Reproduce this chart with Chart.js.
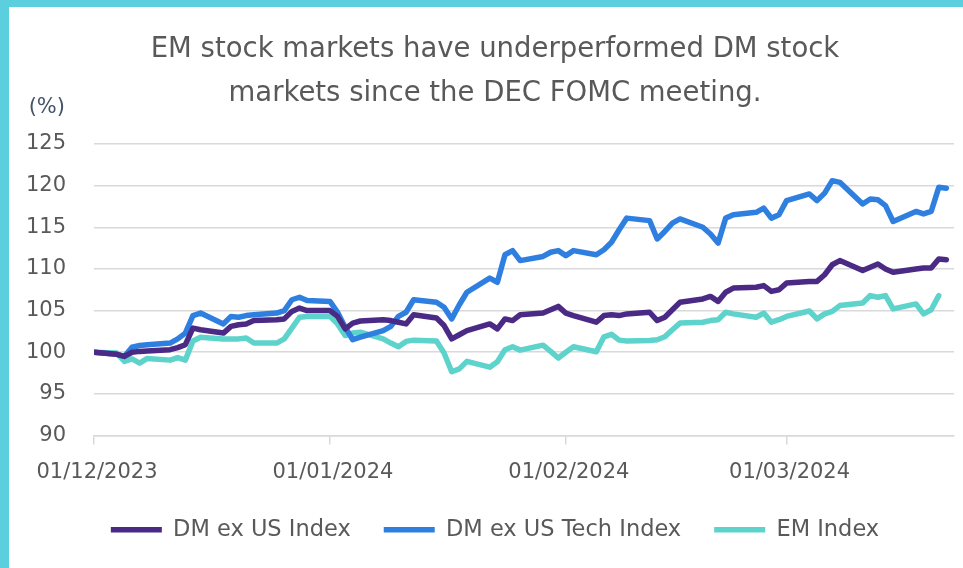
<!DOCTYPE html>
<html>
<head>
<meta charset="utf-8">
<script src="https://cdn.jsdelivr.net/npm/chart.js@4.4.1/dist/chart.umd.min.js"></script>
<style>
  html, body { margin: 0; padding: 0; background: #fff; overflow: hidden; }
  .frame { width: 954px; height: 561px; overflow: hidden; border-top: 7px solid #5bcfde; border-left: 9px solid #5bcfde; }
  canvas { display: block; }
</style>
</head>
<body>
<div class="frame"><canvas id="em-dm-chart" width="954" height="561"></canvas></div>
<script>
// trading days, rebased to 100 on 1 Dec 2023
const dates = [
  '2023-12-01',
  '2023-12-04', '2023-12-05', '2023-12-06', '2023-12-07', '2023-12-08',
  '2023-12-11', '2023-12-12', '2023-12-13', '2023-12-14', '2023-12-15',
  '2023-12-18', '2023-12-19', '2023-12-20', '2023-12-21', '2023-12-22',
  '2023-12-25', '2023-12-26', '2023-12-27', '2023-12-28', '2023-12-29',
  '2024-01-01', '2024-01-02', '2024-01-03', '2024-01-04', '2024-01-05',
  '2024-01-08', '2024-01-09', '2024-01-10', '2024-01-11', '2024-01-12',
  '2024-01-15', '2024-01-16', '2024-01-17', '2024-01-18', '2024-01-19',
  '2024-01-22', '2024-01-23', '2024-01-24', '2024-01-25', '2024-01-26',
  '2024-01-29', '2024-01-30', '2024-01-31', '2024-02-01', '2024-02-02',
  '2024-02-05', '2024-02-06', '2024-02-07', '2024-02-08', '2024-02-09',
  '2024-02-12', '2024-02-13', '2024-02-14', '2024-02-15', '2024-02-16',
  '2024-02-19', '2024-02-20', '2024-02-21', '2024-02-22', '2024-02-23',
  '2024-02-26', '2024-02-27', '2024-02-28', '2024-02-29', '2024-03-01',
  '2024-03-04', '2024-03-05', '2024-03-06', '2024-03-07', '2024-03-08',
  '2024-03-11', '2024-03-12', '2024-03-13', '2024-03-14', '2024-03-15',
  '2024-03-18', '2024-03-19', '2024-03-20', '2024-03-21', '2024-03-22'
];

const dmExUs = [
  100,
  99.75, 99.5, 100.0, 100.1, 100.15,
  100.3, 100.55, 100.9, 102.9, 102.7,
  102.3, 103.1, 103.3, 103.4, 103.8,
  103.9, 104.0, 104.9, 105.3, 105.0,
  105.0, 104.3, 102.8, 103.5, 103.75,
  103.9, 103.8, 103.6, 103.4, 104.5,
  104.1, 103.2, 101.6, 102.1, 102.6,
  103.4, 102.8, 104.0, 103.8, 104.5,
  104.7, 105.1, 105.5, 104.7, 104.4,
  103.6, 104.4, 104.5, 104.4, 104.6,
  104.8, 103.8, 104.2, 105.1, 106.0,
  106.4, 106.7, 106.1, 107.2, 107.7,
  107.8, 108.0, 107.3, 107.5, 108.3,
  108.5, 108.5, 109.3, 110.5, 111.0,
  109.8, 110.2, 110.6, 110.0, 109.6,
  110.0, 110.1, 110.1, 111.2, 111.1
];

const dmExUsTech = [
  100,
  99.75, 99.5, 100.6, 100.8, 100.9,
  101.1, 101.6, 102.3, 104.4, 104.7,
  103.4, 104.3, 104.2, 104.4, 104.5,
  104.7, 105.0, 106.3, 106.6, 106.2,
  106.1, 104.8, 103.0, 101.5, 101.8,
  102.6, 103.1, 104.3, 104.8, 106.3,
  106.0, 105.4, 104.0, 105.7, 107.2,
  108.9, 108.4, 111.7, 112.2, 111.0,
  111.5, 112.0, 112.2, 111.6, 112.2,
  111.7, 112.3, 113.2, 114.7, 116.1,
  115.8, 113.6, 114.5, 115.5, 116.0,
  115.0, 114.2, 113.1, 116.1, 116.5,
  116.8, 117.3, 116.1, 116.5, 118.2,
  119.0, 118.2, 119.1, 120.6, 120.4,
  117.8, 118.4, 118.3, 117.6, 115.7,
  116.9, 116.6, 116.9, 119.8, 119.7
];

const emIndex = [
  100,
  99.9, 98.9, 99.2, 98.7, 99.25,
  99.05, 99.35, 99.05, 101.35, 101.8,
  101.6, 101.6, 101.6, 101.7, 101.1,
  101.1, 101.6, 102.9, 104.2, 104.3,
  104.3, 103.4, 102.0, 102.3, 102.4,
  101.6, 101.1, 100.65, 101.3, 101.45,
  101.35, 99.9, 97.65, 98.0, 98.9,
  98.2, 98.85, 100.3, 100.65, 100.25,
  100.85, 100.1, 99.3, 100.0, 100.65,
  100.05, 101.85, 102.15, 101.45, 101.35,
  101.4, 101.5, 101.85, 102.7, 103.5,
  103.6, 103.8, 103.9, 104.8, 104.6,
  104.2, 104.7, 103.6, 103.9, 104.3,
  104.95, 104.0, 104.6, 104.9, 105.6,
  105.9, 106.8, 106.6, 106.8, 105.2,
  105.8, 104.6, 105.1, 106.8, null
];

const tickLabels = ['01/12/2023', '01/01/2024', '01/02/2024', '01/03/2024'];

const DAY = 86400000;
const start = Date.parse(dates[0]);
const dayOffset = iso => (Date.parse(iso) - start) / DAY;
// dd/mm/yyyy -> yyyy-mm-dd
const labelToIso = label => label.split('/').reverse().join('-');

function toPoints(values) {
  return dates.map((d, i) => ({ x: dayOffset(d), y: values[i] }));
}

const family = '"DejaVu Sans", sans-serif';
const textColor = '#595959';
const gridColor = '#d9d9d9';

function series(label, values, color) {
  return {
    label: label,
    data: toPoints(values),
    borderColor: color,
    backgroundColor: color,
    borderWidth: 5.5,
    borderCapStyle: 'round',
    borderJoinStyle: 'round',
    pointRadius: 0,
    tension: 0,
    fill: false
  };
}

// "(%)" unit above the y axis
const unitLabel = {
  id: 'unitLabel',
  afterDraw(chart) {
    const { ctx, chartArea } = chart;
    ctx.save();
    ctx.font = `21px ${family}`;
    ctx.fillStyle = '#44546a';
    ctx.textAlign = 'right';
    ctx.textBaseline = 'middle';
    ctx.fillText('(%)', chartArea.left - 29, chartArea.top - 36);
    ctx.restore();
  }
};

new Chart(document.getElementById('em-dm-chart'), {
  type: 'line',
  data: {
    datasets: [
      series('DM ex US Index', dmExUs, '#4b2a85'),
      series('DM ex US Tech Index', dmExUsTech, '#2e7fe0'),
      series('EM Index', emIndex, '#5dd3cb')
    ]
  },
  options: {
    responsive: false,
    animation: false,
    layout: { padding: { left: 27, right: 9, top: 0, bottom: 17 } },
    plugins: {
      title: {
        display: true,
        text: ['EM stock markets have underperformed DM stock', 'markets since the DEC FOMC meeting.'],
        color: textColor,
        font: { family: family, size: 27.5, weight: 'normal', lineHeight: 1.6 },
        padding: { top: 21, bottom: 28 }
      },
      legend: {
        position: 'bottom',
        labels: {
          usePointStyle: true,
          pointStyle: 'line',
          pointStyleWidth: 51,
          color: textColor,
          font: { family: family, size: 22.5 },
          padding: 33
        }
      },
      tooltip: { enabled: false }
    },
    scales: {
      x: {
        type: 'linear',
        min: 0,
        max: dayOffset(dates[dates.length - 1]) + 1,
        afterBuildTicks: scale => {
          scale.ticks = tickLabels.map(l => ({ value: dayOffset(labelToIso(l)) }));
        },
        afterFit: scale => { scale.height = 50; },
        ticks: {
          callback: (value, index) => tickLabels[index],
          color: textColor,
          font: { family: family, size: 21, lineHeight: 1 },
          padding: 18,
          labelOffset: 3,
          maxRotation: 0
        },
        grid: { drawOnChartArea: false, drawTicks: true, tickLength: 9, color: gridColor, lineWidth: 1.5 },
        border: { display: true, color: gridColor, width: 1.5 }
      },
      y: {
        min: 90,
        max: 125,
        afterFit: scale => { scale.width = 58; },
        // labels drawn right-aligned 28px left of the plot, outside the axis box
        ticks: { stepSize: 5, color: textColor, font: { family: family, size: 21 }, mirror: true, crossAlign: 'far', padding: -68 },
        grid: { color: gridColor, lineWidth: 1.5, drawTicks: false },
        border: { display: false }
      }
    }
  },
  plugins: [unitLabel]
});
</script>
</body>
</html>
